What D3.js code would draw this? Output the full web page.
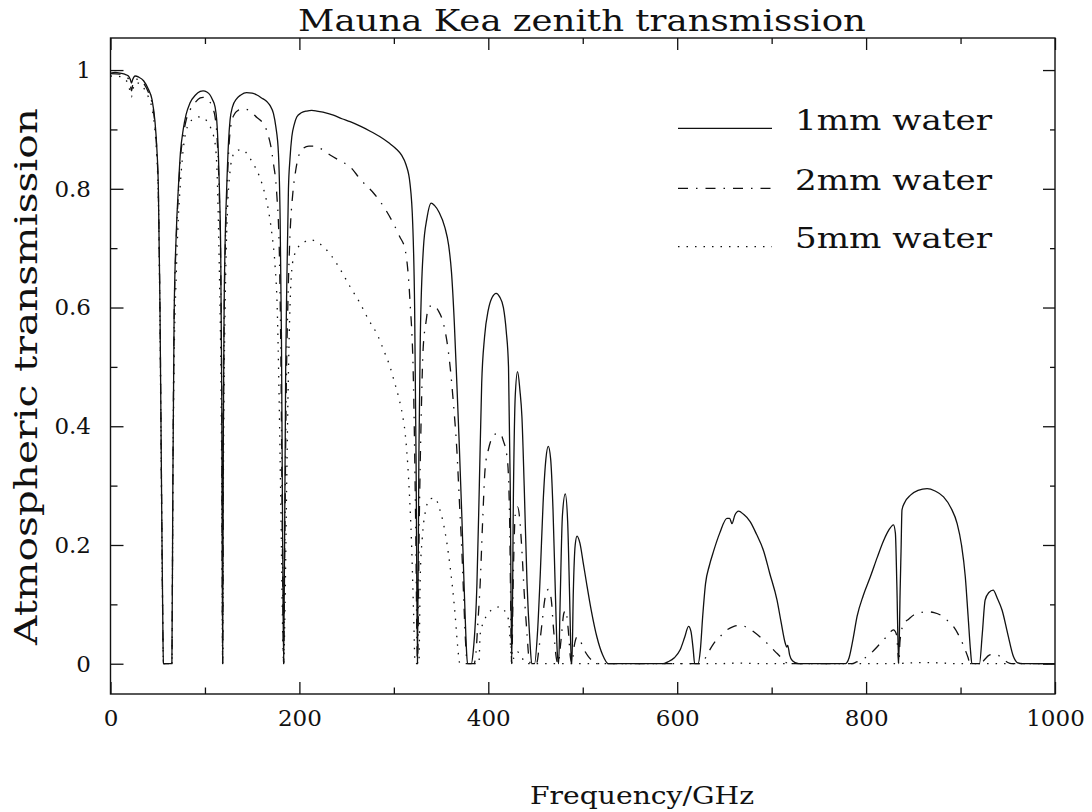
<!DOCTYPE html>
<html>
<head>
<meta charset="utf-8">
<script src="https://cdn.jsdelivr.net/npm/d3@7/dist/d3.min.js"></script>
<style>
  html, body { margin: 0; padding: 0; background: #fff; }
  svg { display: block; }
</style>
</head>
<body>
<svg id="chart" width="1092" height="812"></svg>
<script>
// ---------------- data ----------------
const titleText = "Mauna Kea zenith transmission";
const xLabelText = "Frequency/GHz";
const yLabelText = "Atmospheric transmission";
const seriesNames = ["1mm water", "2mm water", "5mm water"];
const xMajorTicks = [0, 200, 400, 600, 800, 1000];
const xMinorTicks = [100, 300, 500, 700, 900];
const yMajorTicks = [0, 0.2, 0.4, 0.6, 0.8, 1];
const yMinorTicks = [0.1, 0.3, 0.5, 0.7, 0.9];

// 1 mm precipitable water
const freq1 = [0,5,10,15,19,21,22.2,23.5,26,30,35,40,44,47,49,50.7,52.4,54,55.5,56,65,66,67.3,69.5,71.8,74,77,80,84,90,95,98,102,105.4,108,110.7,112.5,114.2,115.5,116.7,117.8,118.75,119.5,120.2,121.5,123,125,126.6,129,133.7,138,144,150,155,160,165.5,169,172.5,175,177.8,179.6,181,182.3,183.3,184.3,185.5,186.6,188.4,190,192,194.5,197.2,202,207.8,213,218.4,225,236,245,253.7,265,275,285,295,302,308,313,317,320,322,323.5,325,326.5,328,331.3,335,339.5,343,348,354,358,361,364,366.7,369,372,374,375.5,377,378,382,384,388,390.5,393,396,400,404,408.4,412,416,419,421.4,423.2,424.8,426.7,428.5,431,433.5,435.6,438,441,444,446,449,452,455,458,461,463.5,466,468.5,471,473,474.5,476,478.5,481.5,484,486,487.5,488.5,490,492,494,497,500.5,504,509,515,521,527,585,590,597,603,608,612,614.5,617,618.5,622,624.5,627,630,634,638.6,645,652.7,655.5,658,661,665,670,677.4,684,691.5,698,705.7,710,714.5,716,717,719,722,728.6,778,782,786,790.5,797,804.6,812,818.7,824,829,831,832.6,834.5,836,837,838,841,847,855,864.6,873,882,890,896.4,901,905,908,910.5,912,920,923,926,930,934.5,939,944,950,956,960,966,1000];
const trans1 = [0.995,0.996,0.995,0.993,0.99,0.984,0.978,0.984,0.99,0.988,0.982,0.968,0.95,0.915,0.87,0.80,0.60,0.3,0.05,0,0,0.3,0.58,0.72,0.80,0.86,0.90,0.925,0.944,0.958,0.964,0.965,0.963,0.958,0.95,0.938,0.915,0.86,0.79,0.69,0.45,0,0.4,0.58,0.72,0.80,0.88,0.916,0.937,0.952,0.958,0.962,0.961,0.958,0.953,0.947,0.94,0.927,0.905,0.86,0.75,0.55,0.2,0,0.2,0.5,0.635,0.80,0.85,0.888,0.908,0.921,0.928,0.931,0.932,0.931,0.929,0.924,0.918,0.913,0.905,0.897,0.888,0.877,0.868,0.857,0.84,0.81,0.74,0.6,0.35,0,0.35,0.55,0.70,0.75,0.776,0.772,0.76,0.735,0.705,0.66,0.575,0.472,0.38,0.248,0.15,0.08,0.02,0,0,0.02,0.136,0.3,0.472,0.55,0.596,0.617,0.624,0.618,0.60,0.56,0.50,0.304,0,0.30,0.45,0.492,0.46,0.416,0.3,0.136,0.04,0,0,0.05,0.15,0.27,0.345,0.366,0.345,0.26,0.12,0.02,0,0.1,0.25,0.286,0.24,0.12,0.02,0,0.12,0.2,0.215,0.203,0.17,0.136,0.09,0.045,0.015,0,0,0.003,0.01,0.023,0.045,0.063,0.055,0.023,0,0,0.023,0.08,0.135,0.165,0.19,0.22,0.245,0.245,0.236,0.25,0.257,0.252,0.239,0.218,0.19,0.152,0.107,0.07,0.034,0.028,0.031,0.015,0.005,0,0,0.01,0.04,0.08,0.115,0.147,0.18,0.208,0.225,0.234,0.22,0.13,0,0.12,0.19,0.259,0.272,0.284,0.292,0.295,0.291,0.281,0.262,0.236,0.2,0.147,0.08,0.023,0,0,0.05,0.107,0.12,0.124,0.11,0.09,0.05,0.012,0.002,0,0];

// 2 mm precipitable water
const freq2 = [0,10,15,19,21,22.2,23.5,26,30,35,40,44,47,49,50.7,52.4,54,55.5,56,65,66,67.3,69.5,71.8,74,77,80,84,90,95,98,102,105,108,110.7,112.5,114.2,115.5,116.7,117.8,118.75,119.5,120.2,121.5,123,125,128,131,135,140,144,150,155,159,163.7,167,170,172.5,176,178.8,180.5,182,183.3,184.5,186,188,190,193,196,199,204,210,215,222,232.5,243,253.7,265,280,290,300,306,312,317,320.8,323,325,327,329,331,334,336.7,342,347,352.5,356,359.6,363,366.7,369.5,372,374,375.5,377,378,385,387,389,391.4,394,396.7,400,403.8,408,412.6,416,419.7,421.5,422.5,424.8,426.5,428.5,431,433.5,435.6,438,441,443,445,451,454,457,460,463.5,466.5,469,472,474,477,480,482,484.5,487,488.5,491,494,497,501,506,512,518,625,630,634,638.6,645,652.7,660,666.8,674,681,690,698.6,704,709,713,716,717.5,720,722,785,790,797,804.6,815,822,829,832,833.5,834.5,836,840,845,850.4,857,864.6,872,878.7,886,892.8,899,905,908,910,921,926,930,935,940,945,950,954,1000];
const trans2 = [0.994,0.993,0.99,0.985,0.975,0.965,0.975,0.985,0.984,0.978,0.963,0.944,0.91,0.865,0.79,0.59,0.3,0.05,0,0,0.3,0.57,0.71,0.79,0.85,0.89,0.915,0.932,0.946,0.953,0.954,0.952,0.947,0.937,0.921,0.895,0.84,0.77,0.67,0.43,0,0.38,0.56,0.70,0.78,0.86,0.912,0.925,0.932,0.935,0.934,0.928,0.92,0.915,0.905,0.89,0.87,0.843,0.792,0.69,0.5,0.2,0,0.2,0.45,0.62,0.72,0.792,0.83,0.854,0.868,0.872,0.872,0.868,0.857,0.847,0.837,0.815,0.79,0.768,0.74,0.72,0.697,0.613,0.47,0.25,0,0.25,0.42,0.53,0.575,0.60,0.604,0.595,0.573,0.545,0.50,0.44,0.36,0.27,0.19,0.11,0.05,0.01,0,0,0.02,0.07,0.135,0.24,0.33,0.36,0.38,0.387,0.388,0.375,0.35,0.31,0.25,0,0.15,0.25,0.264,0.24,0.19,0.12,0.05,0.01,0,0,0.03,0.07,0.11,0.125,0.11,0.06,0.01,0,0.04,0.085,0.09,0.06,0.01,0,0.03,0.045,0.04,0.025,0.012,0.003,0,0,0.01,0.022,0.034,0.045,0.057,0.063,0.065,0.061,0.054,0.042,0.029,0.02,0.012,0.004,0.002,0.005,0.001,0,0,0.003,0.008,0.017,0.034,0.046,0.057,0.05,0.025,0,0.04,0.068,0.075,0.082,0.086,0.0876,0.086,0.082,0.073,0.062,0.045,0.023,0.01,0,0,0.008,0.014,0.016,0.014,0.008,0.002,0,0];

// 5 mm precipitable water
const freq5 = [0,10,15,19,21,22.2,23.5,26,30,35,40,44,47,49,50.7,52.4,54,55.5,56,65,66,67.3,69.5,71.8,73.6,76,79,84,88,93,98,102,106,109,111.8,113,114.2,115.5,116.7,117.8,118.75,119.5,120.5,122,124,126.6,129.4,133,139,143,147.8,153,158.4,163,167.2,170.8,174.3,176.5,178.5,180.5,182,183.3,184.8,186.5,188.5,190,192,195,198,202,206,211,215,222,232.5,243,253.7,264.3,273,282,290,296,300,304.9,309,312,315.5,319,321,322.5,326.5,328,330,333,338.4,343.8,348,352.5,356,359.6,362,365,367.5,370,390,391.4,395,400,406,412.6,417,421.4,423.5,424.8,427,431,435,440,640,665,690,820,865,900,1000];
const trans5 = [0.99,0.989,0.985,0.975,0.962,0.955,0.965,0.978,0.978,0.97,0.955,0.935,0.9,0.855,0.78,0.57,0.28,0.05,0,0,0.28,0.5,0.65,0.75,0.80,0.85,0.89,0.912,0.918,0.921,0.92,0.914,0.903,0.89,0.86,0.82,0.747,0.64,0.52,0.3,0,0.3,0.5,0.66,0.77,0.83,0.855,0.864,0.866,0.862,0.851,0.837,0.818,0.794,0.764,0.725,0.669,0.6,0.45,0.25,0.08,0,0.1,0.3,0.5,0.6,0.665,0.69,0.70,0.707,0.711,0.714,0.713,0.707,0.69,0.665,0.635,0.607,0.58,0.556,0.525,0.50,0.478,0.45,0.42,0.388,0.315,0.19,0.08,0,0,0.15,0.21,0.253,0.278,0.279,0.263,0.236,0.205,0.163,0.13,0.08,0.03,0,0,0.05,0.07,0.085,0.093,0.096,0.09,0.074,0.03,0,0.01,0.02,0.012,0,0,0.001,0,0,0.002,0,0];

// ---------------- layout ----------------
const svg = d3.select("#chart");
const X0 = 110.5, X1 = 1055, Y0 = 38, Y1 = 694;
const x = d3.scaleLinear().domain([0, 1000]).range([X0, X1]);
const y = d3.scaleLinear().domain([-0.051, 1.054]).range([Y1, Y0]);

const serif = "'DejaVu Serif', 'Liberation Serif', serif";
const ink = "#111";

// clip
svg.append("defs").append("clipPath").attr("id", "plotclip")
  .append("rect").attr("x", X0).attr("y", Y0).attr("width", X1 - X0).attr("height", Y1 - Y0);

// axes (ticks pointing inwards)
function styleAxis(g) {
  g.select(".domain").remove();
  g.selectAll("line").attr("stroke", ink).attr("stroke-width", 1.3);
  g.selectAll("text").attr("fill", ink).attr("font-family", serif).attr("font-size", 23);
}
svg.append("g").attr("transform", `translate(0,${Y1})`)
  .call(d3.axisBottom(x).tickValues(xMajorTicks).tickSize(-12).tickPadding(16).tickFormat(d3.format("d")))
  .call(styleAxis);
svg.append("g").attr("transform", `translate(0,${Y1})`)
  .call(d3.axisBottom(x).tickValues(xMinorTicks).tickSize(-6.5).tickFormat(""))
  .call(styleAxis);
svg.append("g").attr("transform", `translate(0,${Y0})`)
  .call(d3.axisTop(x).tickValues(xMajorTicks).tickSize(-12).tickFormat(""))
  .call(styleAxis);
svg.append("g").attr("transform", `translate(0,${Y0})`)
  .call(d3.axisTop(x).tickValues(xMinorTicks).tickSize(-6).tickFormat(""))
  .call(styleAxis);
svg.append("g").attr("transform", `translate(${X0},0)`)
  .call(d3.axisLeft(y).tickValues(yMajorTicks).tickSize(-13).tickPadding(19.5).tickFormat(d => d === 0 ? "0" : d === 1 ? "1" : d3.format(".1f")(d)))
  .call(styleAxis);
svg.append("g").attr("transform", `translate(${X0},0)`)
  .call(d3.axisLeft(y).tickValues(yMinorTicks).tickSize(-7).tickFormat(""))
  .call(styleAxis);
svg.append("g").attr("transform", `translate(${X1},0)`)
  .call(d3.axisRight(y).tickValues(yMajorTicks).tickSize(-12).tickFormat(""))
  .call(styleAxis);
svg.append("g").attr("transform", `translate(${X1},0)`)
  .call(d3.axisRight(y).tickValues(yMinorTicks).tickSize(-5).tickFormat(""))
  .call(styleAxis);

// frame
svg.append("rect").attr("x", X0).attr("y", Y0).attr("width", X1 - X0).attr("height", Y1 - Y0)
  .attr("fill", "none").attr("stroke", ink).attr("stroke-width", 1.4);

// curves
const styles = [
  { dash: null },
  { dash: "10,8,1.5,8" },
  { dash: "1.5,7" }
];
const seriesData = [
  d3.zip(freq1, trans1),
  d3.zip(freq2, trans2),
  d3.zip(freq5, trans5)
];
const line = d3.line().x(d => x(d[0])).y(d => y(d[1])).curve(d3.curveMonotoneX);
const gPlot = svg.append("g").attr("clip-path", "url(#plotclip)");
seriesData.forEach((data, i) => {
  gPlot.append("path").datum(data)
    .attr("d", line)
    .attr("fill", "none")
    .attr("stroke", ink)
    .attr("stroke-width", 1.3)
    .attr("stroke-linejoin", "round")
    .attr("stroke-dasharray", styles[i].dash);
});

// legend
const legendRowY = [128.3, 188.3, 246.7];
seriesNames.forEach((name, i) => {
  svg.append("line")
    .attr("x1", 678).attr("x2", 772)
    .attr("y1", legendRowY[i]).attr("y2", legendRowY[i])
    .attr("stroke", ink).attr("stroke-width", 1.3)
    .attr("stroke-dasharray", styles[i].dash);
  svg.append("text")
    .attr("x", 795).attr("y", legendRowY[i] + 1.7)
    .attr("font-family", serif).attr("font-size", 27).attr("fill", ink)
    .attr("textLength", 197).attr("lengthAdjust", "spacingAndGlyphs")
    .text(name);
});

// title
svg.append("text")
  .attr("x", 582).attr("y", 31).attr("text-anchor", "middle")
  .attr("font-family", serif).attr("font-size", 29).attr("fill", ink)
  .attr("textLength", 568).attr("lengthAdjust", "spacingAndGlyphs")
  .text(titleText);

// x label
svg.append("text")
  .attr("x", 642).attr("y", 804).attr("text-anchor", "middle")
  .attr("font-family", serif).attr("font-size", 25).attr("fill", ink)
  .attr("textLength", 224).attr("lengthAdjust", "spacingAndGlyphs")
  .text(xLabelText);

// y label
svg.append("text")
  .attr("transform", "translate(37,376.5) rotate(-90)")
  .attr("text-anchor", "middle")
  .attr("font-family", serif).attr("font-size", 31).attr("fill", ink)
  .attr("textLength", 537).attr("lengthAdjust", "spacingAndGlyphs")
  .text(yLabelText);
</script>
</body>
</html>
